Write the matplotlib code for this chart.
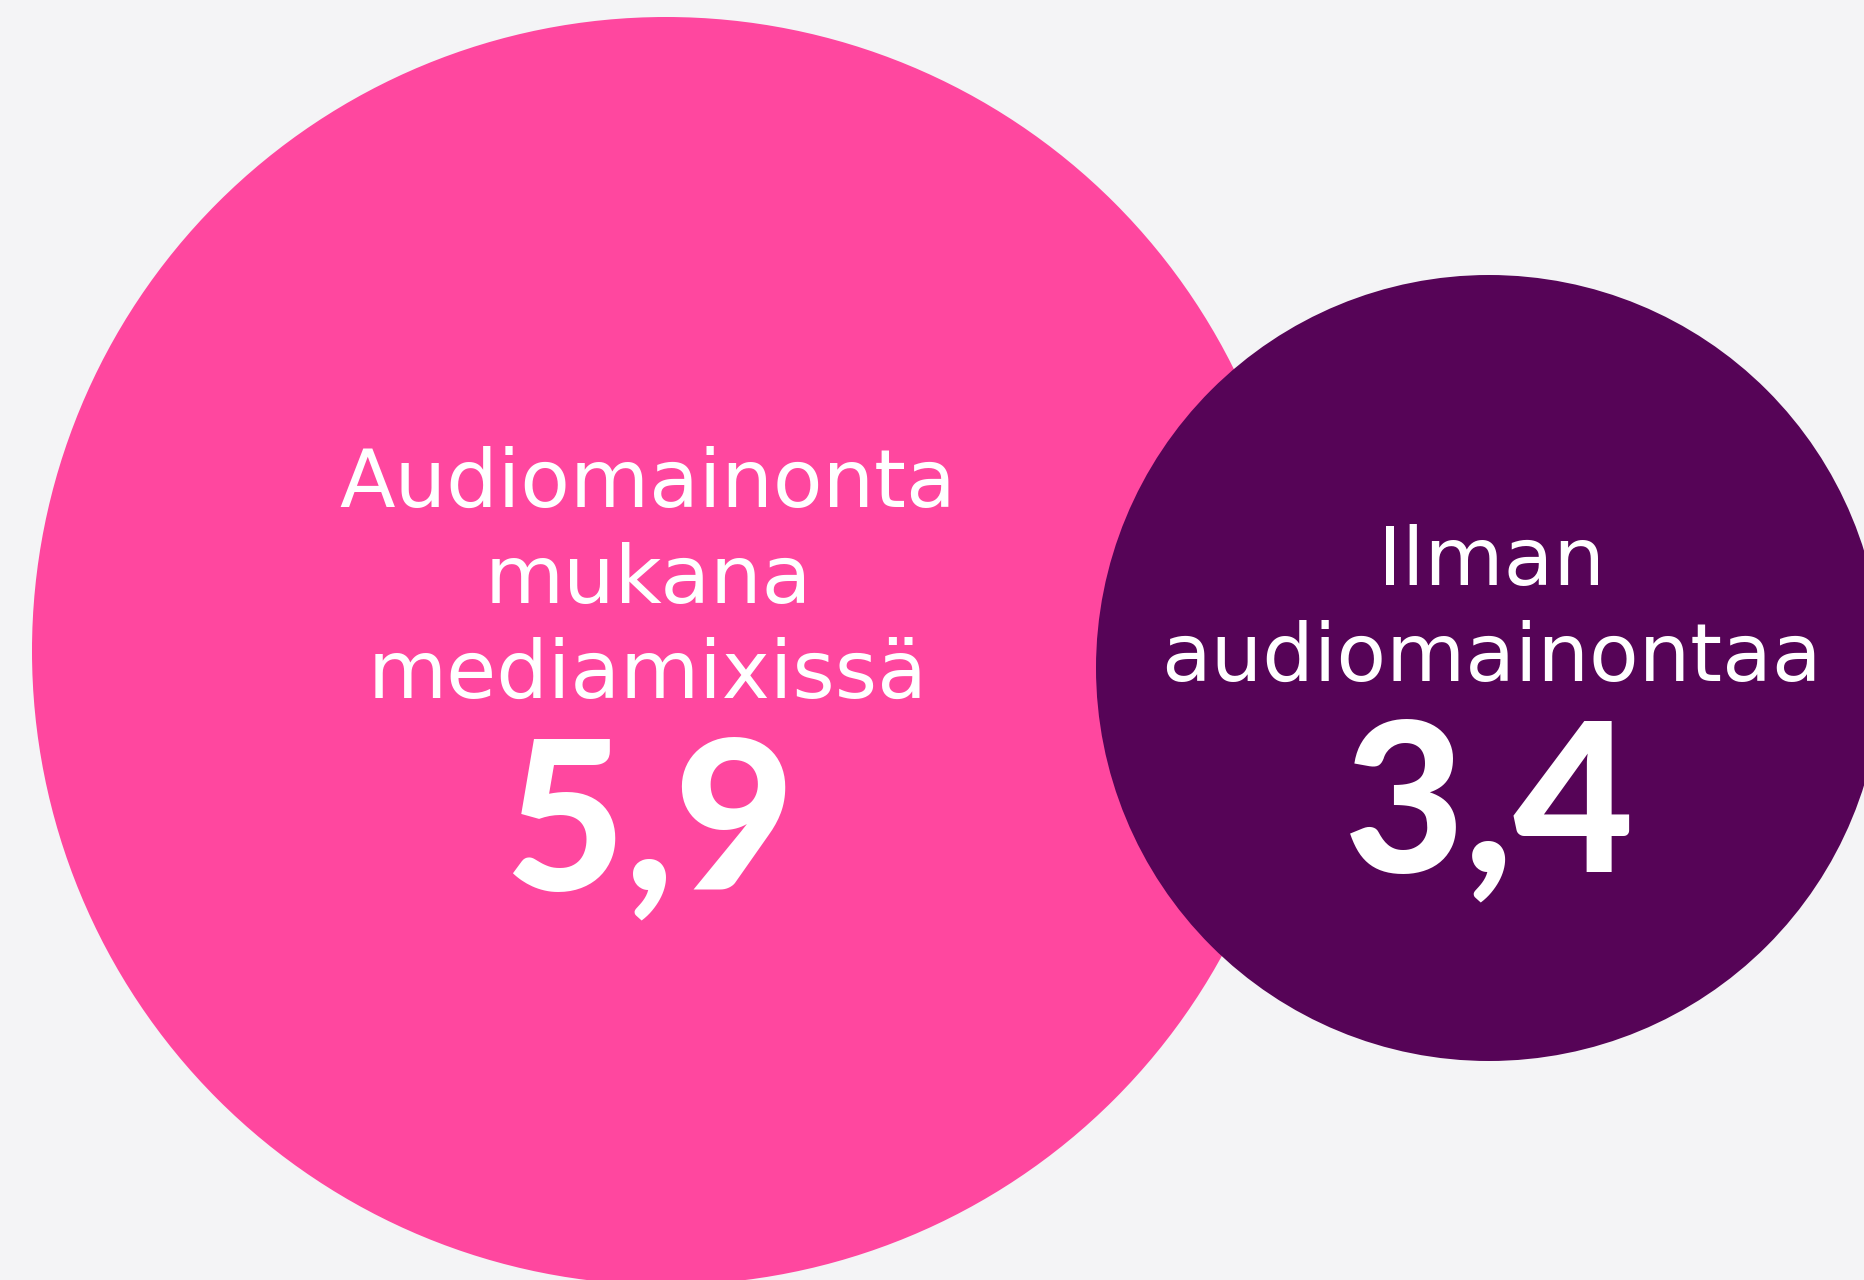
import matplotlib
matplotlib.use("Agg")
import matplotlib.pyplot as plt
from matplotlib.patches import Circle

# ---- data ----
categories = ["Audiomainonta mukana mediamixissä", "Ilman audiomainontaa"]
label_lines = [["Audiomainonta", "mukana", "mediamixissä"],
               ["Ilman", "audiomainontaa"]]
values = [5.9, 3.4]
colors = ["#FF479F", "#560457"]
bg = "#F4F4F6"

W, H = 1865, 1280
fig = plt.figure(figsize=(W / 100, H / 100), dpi=100, facecolor=bg)
ax = fig.add_axes([0, 0, 1, 1])
ax.set_xlim(0, W)
ax.set_ylim(H, 0)
ax.set_aspect("equal")
ax.axis("off")
ax.set_facecolor(bg)

# layout (pixels)
centers = [(666, 651), (1489, 668)]
radii = [634, 393]
text_x = [648, 1491]
label_baselines = [[507, 602.5, 698], [585, 681]]
num_baseline = [889, 871]
num_x = [650, 1489]

for i in range(len(values)):
    ax.add_patch(Circle(centers[i], radii[i], facecolor=colors[i],
                        edgecolor="none", zorder=i + 1))
    for line, yb in zip(label_lines[i], label_baselines[i]):
        ax.text(text_x[i], yb, line, ha="center", va="baseline",
                color="white", fontsize=58.5, family="DejaVu Sans",
                zorder=10)
    ax.text(num_x[i], num_baseline[i], f"{values[i]:.1f}".replace(".", ","),
            ha="center", va="baseline", color="white", fontsize=150,
            family="Lato", fontweight="black", zorder=10)

fig.savefig("out.png", dpi=100, facecolor=bg)
